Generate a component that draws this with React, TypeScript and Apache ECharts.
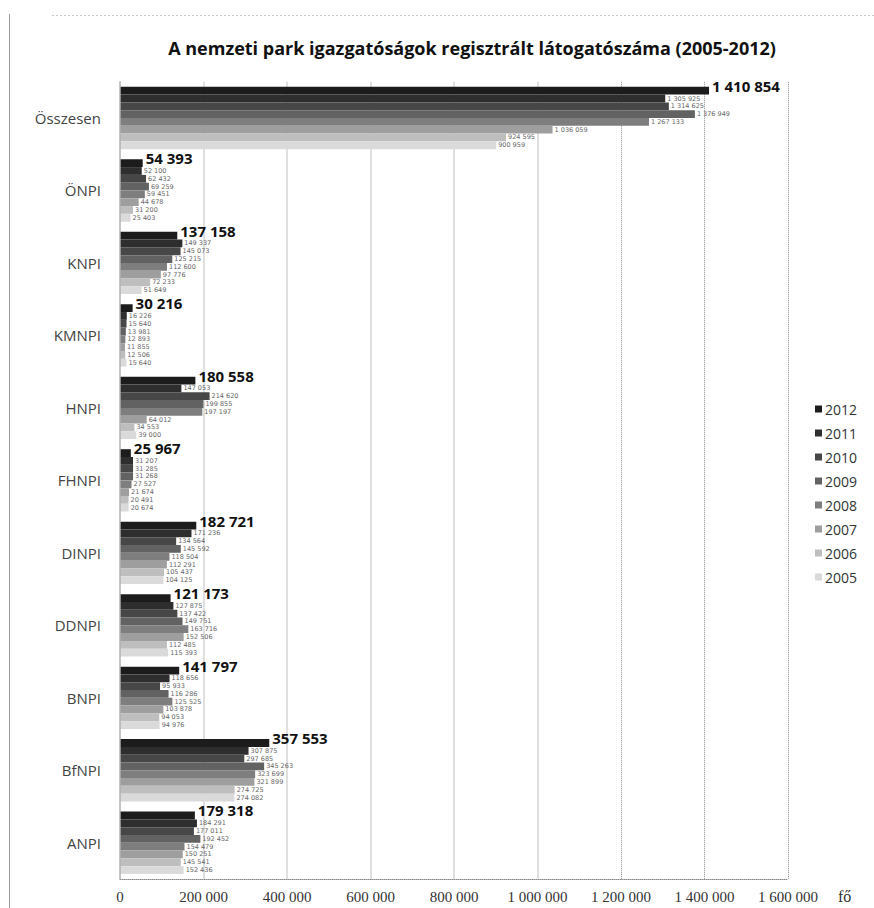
import React, { useEffect, useRef } from "react";
import * as echarts from "echarts";

const categories = ["Összesen", "ÖNPI", "KNPI", "KMNPI", "HNPI", "FHNPI", "DINPI", "DDNPI", "BNPI", "BfNPI", "ANPI"];
const years = ["2012", "2011", "2010", "2009", "2008", "2007", "2006", "2005"];

const v2012 = [1410854, 54393, 137158, 30216, 180558, 25967, 182721, 121173, 141797, 357553, 179318];
const v2011 = [1305925, 52100, 149337, 16226, 147053, 31207, 171236, 127875, 118656, 307875, 184291];
const v2010 = [1314625, 62432, 145073, 15640, 214620, 31285, 134564, 137422, 95933, 297685, 177011];
const v2009 = [1376949, 69259, 125215, 13981, 199855, 31268, 145592, 149751, 116286, 345263, 192452];
const v2008 = [1267133, 59451, 112600, 12893, 197197, 27527, 118504, 163716, 125525, 323699, 154479];
const v2007 = [1036059, 44678, 97776, 11855, 64012, 21674, 112291, 152506, 103878, 321899, 150251];
const v2006 = [924595, 31200, 72233, 12506, 34553, 20491, 105437, 112485, 94053, 274725, 145541];
const v2005 = [900959, 25403, 51649, 15640, 39000, 20674, 104125, 115393, 94976, 274082, 152436];

const seriesValues = [v2012, v2011, v2010, v2009, v2008, v2007, v2006, v2005];
const colors = ["#1c1c1c", "#2e2e2e", "#474747", "#626262", "#7e7e7e", "#9e9e9e", "#bebebe", "#dadada"];

const gridTicks = [200000, 400000, 600000, 800000, 1000000, 1200000, 1400000, 1600000];
const dottedTicks = [1200000, 1400000, 1600000];

const fmt = (v: number) => String(v).replace(/\B(?=(\d{3})+(?!\d))/g, " ");

export default function App() {
  const ref = useRef<HTMLDivElement>(null);
  useEffect(() => {
    if (!ref.current) return;
    const chart = echarts.init(ref.current, null, { renderer: "svg" });
    const barSeries = years.map((y, i) => ({
      name: y,
      type: "bar",
      data: seriesValues[i],
      barGap: "0%",
      barCategoryGap: "14%",
      z: 3,
      itemStyle: { color: colors[i] },
      label: {
        show: true,
        position: "right",
        distance: i === 0 ? 3 : 2,
        formatter: (p: any) => fmt(p.value),
        fontFamily: i === 0 ? "Open Sans" : "DejaVu Sans",
        fontSize: i === 0 ? 15 : 6.5,
        lineHeight: i === 0 ? 15 : 7,
        fontWeight: i === 0 ? "bold" : "normal",
        color: i === 0 ? "#111" : "#666",
        offset: i === 0 ? [0, -5] : [0, 0],
      },
    }));
    const gridSeries = {
      name: "grid",
      type: "line",
      data: [],
      z: 0,
      silent: true,
      markLine: {
        silent: true,
        z: 0,
        symbol: "none",
        label: { show: false },
        animation: false,
        data: gridTicks.map((t) => ({
          xAxis: t,
          lineStyle: dottedTicks.includes(t)
            ? { color: "#8a8a8a", type: "dotted", width: 1 }
            : { color: "#d4d4d4", type: "solid", width: 1.5 },
        })),
      },
    };
    chart.setOption({
      animation: false,
      backgroundColor: "#fff",
      title: {
        text: "A nemzeti park igazgatóságok regisztrált látogatószáma (2005-2012)",
        left: 467,
        textAlign: "center",
        top: 34,
        textStyle: { fontFamily: "Open Sans", fontSize: 18, fontWeight: "bold", color: "#111" },
      },
      legend: {
        data: years,
        orient: "vertical",
        left: 810,
        top: 397,
        itemWidth: 7,
        itemHeight: 7,
        itemGap: 10,
        icon: "rect",
        textStyle: { fontFamily: "Open Sans", fontSize: 14, color: "#333", lineHeight: 14, padding: [0, 0, 0, -2] },
      },
      grid: { left: 120, right: 86, top: 81.75, bottom: 29, containLabel: false },
      xAxis: {
        type: "value",
        min: 0,
        max: 1600000,
        interval: 200000,
        name: "fő",
        nameLocation: "end",
        nameGap: 50,
        nameTextStyle: { fontFamily: "Liberation Serif", fontSize: 16, color: "#333", verticalAlign: "top", padding: [9, 0, 0, 0] },
        axisLine: { show: true, lineStyle: { color: "#888", type: "dotted" } },
        axisTick: { show: false },
        splitLine: { show: false },
        axisLabel: {
          margin: 10,
          fontFamily: "Liberation Serif",
          fontSize: 15,
          color: "#333",
          formatter: (v: number) => fmt(v),
        },
      },
      yAxis: {
        type: "category",
        data: categories,
        inverse: true,
        z: 4,
        axisLine: { show: true, lineStyle: { color: "#b0b0b0", width: 1.5 } },
        axisTick: { show: false },
        axisLabel: { margin: 19, fontFamily: "Open Sans", fontSize: 15, color: "#444" },
      },
      graphic: [
        { type: "line", shape: { x1: 9.5, y1: 14, x2: 9.5, y2: 908 }, style: { stroke: "#9a9a9a", lineWidth: 1 } },
        { type: "line", shape: { x1: 52, y1: 15.5, x2: 874, y2: 15.5 }, style: { stroke: "#c8c8c8", lineWidth: 1, lineDash: [2, 2] } },
      ],
      series: [gridSeries, ...barSeries],
    });
    return () => chart.dispose();
  }, []);
  return <div ref={ref} style={{ position: "fixed", left: 0, top: 0, width: 874, height: 908 }} />;
}
